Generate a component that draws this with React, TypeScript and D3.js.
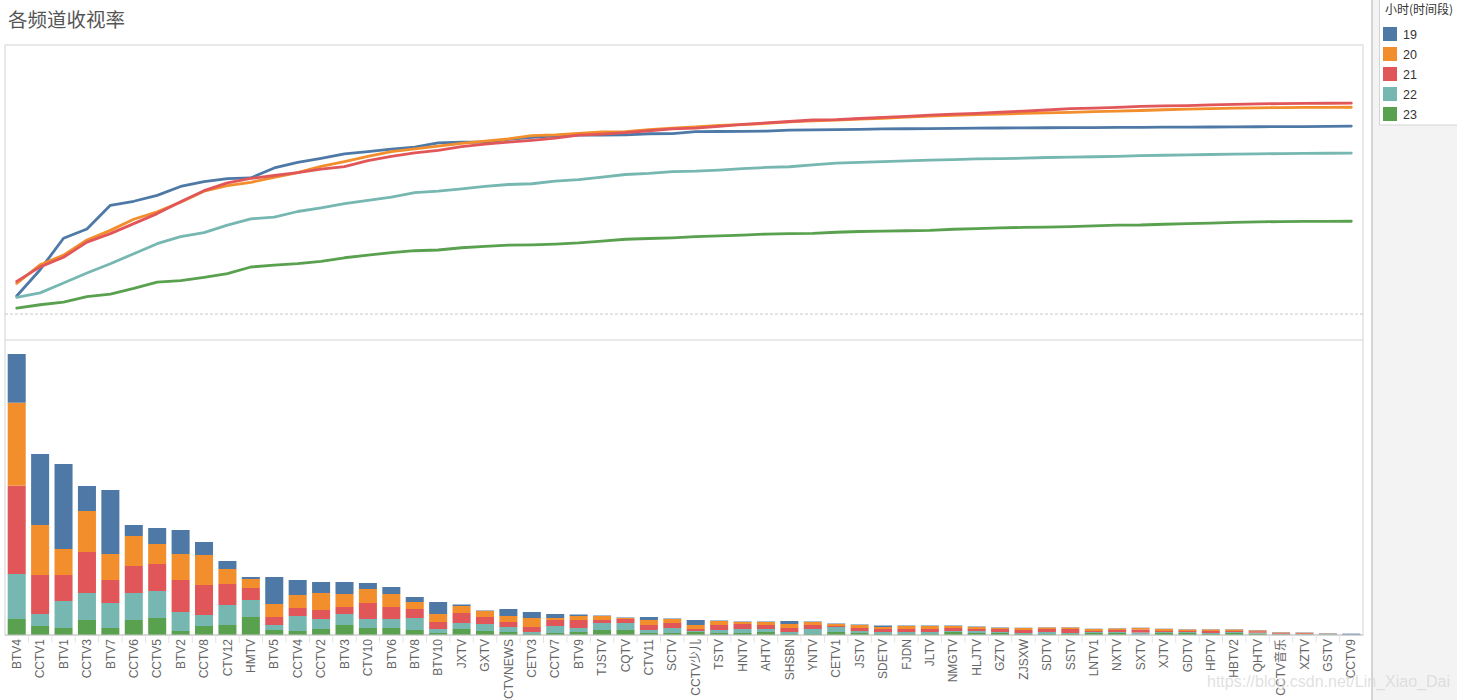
import React from "react";
import * as d3 from "d3";

// channels in the order Tableau sorted them (by total rating, desc)
const channels = [
  "BTV4", "CCTV1", "BTV1", "CCTV3", "BTV7", "CCTV6", "CCTV5", "BTV2", "CCTV8", "CTV12",
  "HMTV", "BTV5", "CCTV4", "CCTV2", "BTV3", "CTV10", "BTV6", "BTV8", "BTV10", "JXTV",
  "GXTV", "CCTVNEWS", "CETV3", "CCTV7", "BTV9", "TJSTV", "CQTV", "CTV11", "SCTV", "CCTV少儿",
  "TSTV", "HNTV", "AHTV", "SHSBN", "YNTV", "CETV1", "JSTV", "SDETV", "FJDN", "JLTV",
  "NMGTV", "HLJTV", "GZTV", "ZJSXW", "SDTV", "SSTV", "LNTV1", "NXTV", "SXTV", "XJTV",
  "GDTV", "HPTV", "HBTV2", "QHTV", "CCTV音乐", "XZTV", "GSTV", "CCTV9",
];

const hours = ["19", "20", "21", "22", "23"];
const hourColors = ["#4e79a7", "#f28e2b", "#e15759", "#76b7b2", "#59a14f"];

// rating per channel for each hour
const h19 = [
  0.487, 0.71, 0.85, 0.25, 0.64, 0.11, 0.16, 0.24, 0.13, 0.08,
  0.02, 0.27, 0.15, 0.11, 0.12, 0.06, 0.07, 0.05, 0.12, 0.015,
  0.005, 0.07, 0.06, 0.04, 0.015, 0.005, 0.005, 0.03, 0.005, 0.05,
  0.005, 0.005, 0.005, 0.03, 0.005, 0.005, 0.005, 0.015, 0.005, 0.005,
  0.005, 0.005, 0.005, 0.003, 0.003, 0.003, 0.003, 0.003, 0.003, 0.003,
  0.003, 0.003, 0.003, 0.003, 0.003, 0.003, 0.003, 0.01,
];
const h20 = [
  0.83, 0.5, 0.26, 0.41, 0.26, 0.3, 0.2, 0.26, 0.3, 0.15,
  0.09, 0.13, 0.13, 0.17, 0.13, 0.14, 0.13, 0.07, 0.08, 0.07,
  0.06, 0.06, 0.09, 0.02, 0.04, 0.04, 0.01, 0.05, 0.04, 0.04,
  0.04, 0.02, 0.03, 0.04, 0.03, 0.02, 0.03, 0.02, 0.03, 0.03,
  0.02, 0.02, 0.01, 0.02, 0.015, 0.015, 0.02, 0.015, 0.015, 0.02,
  0.015, 0.015, 0.015, 0.008, 0.005, 0.005, 0.003, 0.001,
];
const h21 = [
  0.883, 0.39, 0.26, 0.41, 0.23, 0.27, 0.27, 0.32, 0.3, 0.21,
  0.12, 0.08, 0.08, 0.09, 0.07, 0.16, 0.12, 0.09, 0.07, 0.1,
  0.07, 0.05, 0.05, 0.06, 0.08, 0.03, 0.04, 0.05, 0.05, 0.02,
  0.05, 0.05, 0.04, 0.04, 0.04, 0.01, 0.03, 0.03, 0.03, 0.03,
  0.03, 0.02, 0.03, 0.03, 0.03, 0.04, 0.01, 0.02, 0.03, 0.01,
  0.01, 0.02, 0.01, 0.015, 0.008, 0.008, 0.002, 0.001,
];
const h22 = [
  0.45, 0.12, 0.27, 0.27, 0.25, 0.27, 0.27, 0.19, 0.11, 0.2,
  0.17, 0.05, 0.15, 0.1, 0.11, 0.09, 0.09, 0.12, 0.04, 0.06,
  0.07, 0.05, 0.02, 0.07, 0.04, 0.07, 0.07, 0.03, 0.05, 0.01,
  0.03, 0.04, 0.03, 0.02, 0.05, 0.05, 0.02, 0.02, 0.02, 0.02,
  0.01, 0.02, 0.01, 0.01, 0.02, 0.01, 0.01, 0.01, 0.02, 0.01,
  0.01, 0.01, 0.01, 0.008, 0.006, 0.005, 0.006, 0.001,
];
const h23 = [
  0.16, 0.09, 0.07, 0.15, 0.07, 0.15, 0.17, 0.04, 0.09, 0.1,
  0.18, 0.05, 0.04, 0.06, 0.1, 0.07, 0.07, 0.05, 0.02, 0.06,
  0.04, 0.03, 0.01, 0.02, 0.03, 0.05, 0.05, 0.02, 0.02, 0.03,
  0.02, 0.02, 0.03, 0.01, 0.01, 0.03, 0.02, 0.01, 0.01, 0.01,
  0.03, 0.02, 0.02, 0.01, 0.01, 0.01, 0.02, 0.02, 0.005, 0.02,
  0.02, 0.01, 0.02, 0.015, 0.007, 0.005, 0.004, 0.0005,
];

const series = [h19, h20, h21, h22, h23];

const W = 1457;
const H = 700;
const pane = { l: 5, r: 1363, t: 45, mid: 340, b: 635 };

export default function App() {
  const rows = channels.map((c, i) => {
    const r: any = { channel: c };
    hours.forEach((h, k) => (r[h] = series[k][i]));
    return r;
  });

  const x = d3
    .scaleBand<string>()
    .domain(channels)
    .range([pane.l, pane.r])
    .paddingInner(0.23)
    .paddingOuter(0.115);

  // bottom pane: stacked bars
  const yBar = d3.scaleLinear().domain([0, 2.95]).range([pane.b, pane.mid]);
  // stack bottom-up: 23 at the bottom, 19 on top
  const stack = d3.stack<any>().keys(hours.slice().reverse())(rows);

  // top pane: running total per hour
  const yLine = d3.scaleLinear().domain([0, 7.27]).range([314, pane.t]);
  const line = d3
    .line<number>()
    .x((_, i) => (x(channels[i]) ?? 0) + x.bandwidth() / 2)
    .y((d) => yLine(d));
  const running = series.map((s) => d3.cumsum(s));

  const labelFont = '"Liberation Sans", Arial, "Noto Sans CJK SC", sans-serif';
  const step = x.step();

  return (
    <svg
      width={W}
      height={H}
      style={{ position: "absolute", left: 0, top: 0, background: "#fff", overflow: "hidden" }}
    >
      {/* title */}
      <text x={8} y={27} fontSize={19.5} fill="#555" fontFamily='"Noto Sans CJK SC", sans-serif'>
        各频道收视率
      </text>

      {/* panes */}
      <rect x={pane.l} y={pane.t} width={pane.r - pane.l} height={pane.b - pane.t} fill="none" stroke="#d4d4d4" />
      <line x1={pane.l} x2={pane.r} y1={pane.mid} y2={pane.mid} stroke="#d4d4d4" />
      <line x1={pane.l} x2={pane.r} y1={314} y2={314} stroke="#c8c8c8" strokeDasharray="3,2" />

      {/* stacked bars */}
      <g>
        {stack.map((layer) => (
          <g key={layer.key} fill={hourColors[hours.indexOf(layer.key)]}>
            {layer.map((d, i) => (
              <rect
                key={channels[i]}
                x={x(channels[i])}
                width={x.bandwidth()}
                y={yBar(d[1])}
                height={Math.max(0, yBar(d[0]) - yBar(d[1]))}
              />
            ))}
          </g>
        ))}
      </g>

      {/* running total lines */}
      <g fill="none" strokeWidth={2.8} strokeLinejoin="round" strokeLinecap="round">
        {running.map((r, k) => (
          <path key={hours[k]} d={line(Array.from(r)) ?? ""} stroke={hourColors[k]} />
        ))}
      </g>

      {/* x axis */}
      <line x1={pane.l} x2={pane.r} y1={pane.b} y2={pane.b} stroke="#c4c4c4" />
      {channels.slice(1).map((c) => {
        const bx = (x(c) ?? 0) - (step - x.bandwidth()) / 2;
        return <line key={"t" + c} x1={bx} x2={bx} y1={pane.b} y2={pane.b + 8} stroke="#e4e4e4" />;
      })}
      {channels.map((c) => {
        const cx = (x(c) ?? 0) + x.bandwidth() / 2;
        return (
          <text
            key={"l" + c}
            transform={`translate(${cx},${pane.b + 4}) rotate(-90)`}
            textAnchor="end"
            dy="0.35em"
            fontSize={12}
            fill="#666"
            fontFamily={labelFont}
          >
            {c}
          </text>
        );
      })}

      {/* right side legend */}
      <rect x={1372} y={0} width={W - 1372} height={H} fill="#f3f3f3" />
      <line x1={1372} x2={1372} y1={0} y2={H} stroke="#c8c8c8" strokeWidth={1.5} />
      <rect x={1379.5} y={-1} width={W - 1379} height={126} fill="#fff" stroke="#d4d4d4" />
      <text x={1385} y={14} fontSize={12} fill="#333" fontFamily='"Noto Sans CJK SC", sans-serif'>
        小时(时间段)
      </text>
      {hours.map((h, k) => (
        <g key={"lg" + h} transform={`translate(1383,${27 + k * 20})`}>
          <rect width={14} height={14} fill={hourColors[k]} />
          <text x={20} y={7} dy="0.36em" fontSize={12.5} fill="#333" fontFamily={labelFont}>
            {h}
          </text>
        </g>
      ))}

      {/* watermark */}
      <text
        x={1207}
        y={687}
        fontSize={16}
        textLength={243}
        lengthAdjust="spacingAndGlyphs"
        fill="#d6d6d6"
        fillOpacity={0.75}
        fontFamily={labelFont}
      >
        https://blog.csdn.net/Lin_Xiao_Dai
      </text>
    </svg>
  );
}
